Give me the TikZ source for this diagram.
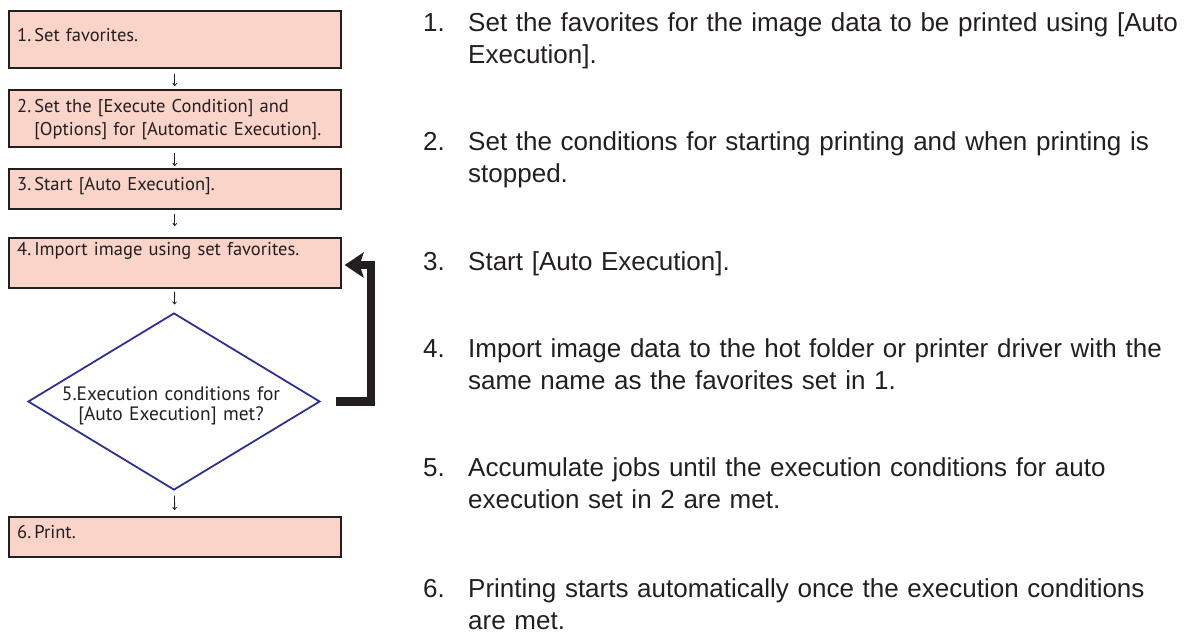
\documentclass[tikz,border=0pt]{standalone}
\usepackage{fontspec}
\setmainfont{Liberation Sans}
\newfontfamily\flowfont{PT Sans}
\usetikzlibrary{shapes.geometric,arrows.meta}

\definecolor{stepfill}{HTML}{FAD3C9}
\definecolor{stepline}{HTML}{231F20}
\definecolor{checkline}{HTML}{2E3192}

\tikzset{
	stepbox/.style={draw=stepline, line width=1.6pt, fill=stepfill, rectangle,
		anchor=north west, minimum width=332pt, inner sep=0pt},
	checkbox/.style={draw=checkline, line width=1.8pt, diamond, inner sep=0pt,
		minimum width=292pt, minimum height=177pt},
	steplabel/.style={anchor=base west, inner sep=0pt, text width=330pt, align=left,
		font=\flowfont\fontsize{18.5}{23}\selectfont, text=stepline},
	flowarrow/.style={-{To[length=3pt,width=4.5pt]}, line width=0.8pt, draw=stepline},
	loopback/.style={-{Stealth[length=19pt,width=25pt,inset=4pt]}, line width=8.5pt, draw=stepline},
	itemtext/.style={anchor=base west, inner sep=0pt, align=left,
		font=\fontsize{26}{32}\selectfont, text=stepline},
}

\begin{document}
\begin{tikzpicture}[x=1pt,y=-1pt]
	\useasboundingbox (0,0) rectangle (1185,632);
	% flow boxes
	\node[stepbox, minimum height=57pt] (b1) at (8,10) {};
	\node[stepbox, minimum height=57pt] (b2) at (8,89) {};
	\node[stepbox, minimum height=40pt] (b3) at (8,168) {};
	\node[stepbox, minimum height=50pt] (b4) at (8,237) {};
	\node[checkbox] (d5) at (174,401.5) {};
	\node[stepbox, minimum height=40pt] (b6) at (8,516) {};
	% labels in the boxes
	\node[steplabel] (t1) at (17,41) {1.\,Set favorites.};
	\node[steplabel] (t2) at (17,112) {2.\,Set the [Execute Condition] and\\\hphantom{2.\,}[Options] for [Automatic Execution].};
	\node[steplabel] (t3) at (17,190) {3.\,Start [Auto Execution].};
	\node[steplabel] (t4) at (17,255) {4.\,Import image using set favorites.};
	\node[steplabel, anchor=base, align=center, text width=260pt,
		font=\flowfont\fontsize{19.4}{23}\selectfont] (t5) at (171,400) {5.Execution conditions for\\[-3pt]{}[Auto Execution] met?};
	\node[steplabel] (t6) at (17,538) {6.\,Print.};
	% small arrows
	\draw[flowarrow, shorten <=5pt, shorten >=3pt] (b1) -- (b2);
	\draw[flowarrow, shorten <=5pt, shorten >=2pt] (b2) -- (b3);
	\draw[flowarrow, shorten <=4pt, shorten >=11pt] (b3) -- (b4);
	\draw[flowarrow, shorten <=3pt, shorten >=8pt] (b4) -- (d5);
	\draw[flowarrow, shorten <=5pt, shorten >=6pt] (d5) -- (b6);
	% back to step 4
	\coordinate (turn) at (371,265);
	\draw[loopback, shorten <=15pt, shorten >=3pt] (d5.east) -| (turn) -- (turn -| b4.east);
	% explanations
	\foreach \n/\y/\txt in {
		1/31/{Set the favorites for the image data to be printed using [Auto\\Execution].},
		2/150/{Set the conditions for starting printing and when printing is\\stopped.},
		3/270/{Start [Auto Execution].},
		4/357/{Import image data to the hot folder or printer driver with the\\same name as the favorites set in 1.},
		5/476/{Accumulate jobs until the execution conditions for auto\\execution set in 2 are met.},
		6/597/{Printing starts automatically once the execution conditions\\are met.}} {
		\node[itemtext] (n\n) at (423,\y) {\n.};
		\node[itemtext, text width=740pt] (i\n) at (468,\y) {\txt};
	}
\end{tikzpicture}
\end{document}
